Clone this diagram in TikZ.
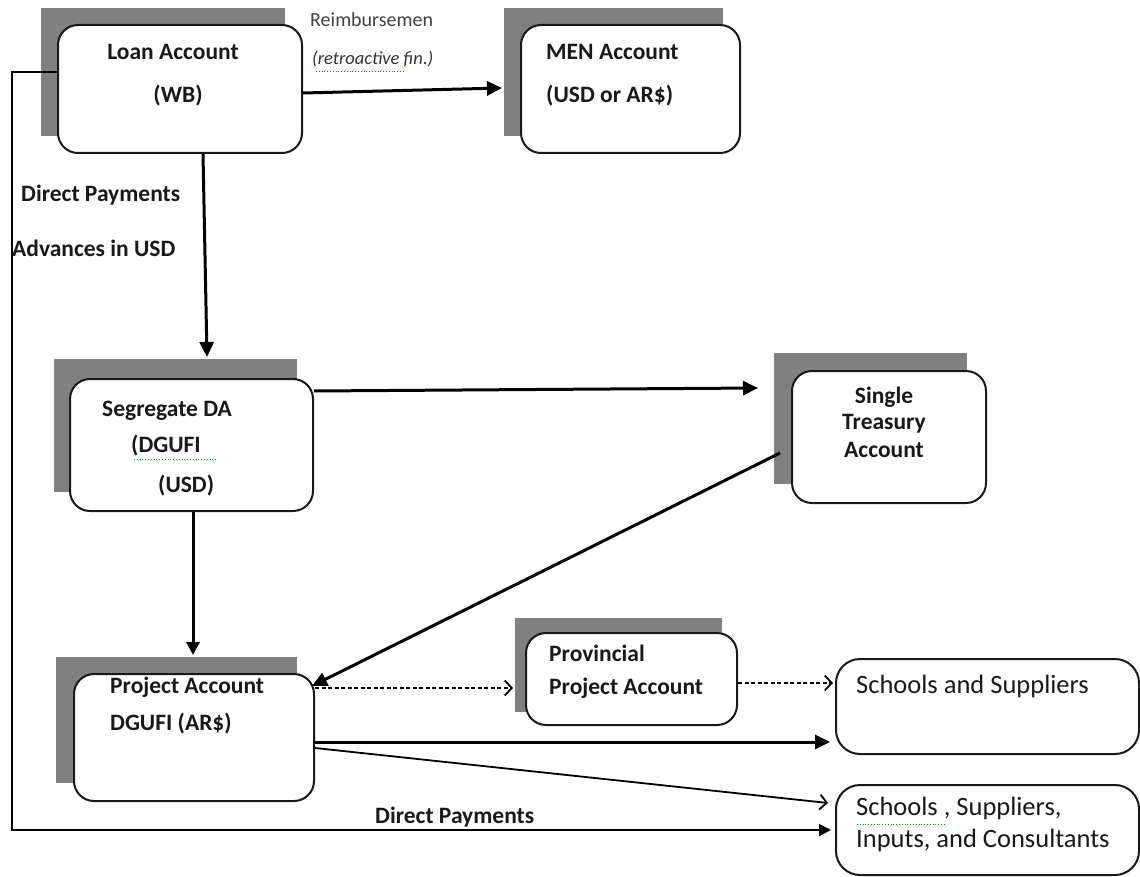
\documentclass[tikz,border=0pt]{standalone}
\usepackage{fontspec}
\setmainfont{Carlito}
\usetikzlibrary{arrows.meta,calc,decorations.pathmorphing}
\begin{document}
\begin{tikzpicture}[x=1pt,y=-1pt,
  bx/.style={draw=black!90, line width=2pt, fill=white, rounded corners=20pt, inner sep=0pt, anchor=north west},
  shd/.style={fill=black!50, draw=none, inner sep=0pt, anchor=north west},
  txt/.style={inner sep=0pt, text height=1.0em, text depth=0pt, font=\fontsize{23.5}{28}\selectfont\bfseries, text=black!90},
  big/.style={txt, font=\fontsize{26.5}{30}\selectfont},
  thk/.style={line width=3pt, -{Triangle[length=15pt,width=14pt]}},
  med/.style={line width=3pt, -{Triangle[length=13pt,width=13pt]}},
  thn/.style={line width=2pt, -{Triangle[length=12pt,width=12pt]}},
  opn/.style={line width=1.8pt, -{Straight Barb[length=7pt,width=15pt]}},
  dsh/.style={opn, dash pattern=on 4pt off 2.5pt},
  squig/.style={draw=green!60!black, line width=0.8pt, dotted}
]
\useasboundingbox (0,0) rectangle (1140,877);
\fill[white] (0,0) rectangle (1140,877);

% shadows and boxes
\node[shd, minimum width=244pt, minimum height=128pt] (loanS) at (41,8) {};
\node[bx, minimum width=244pt, minimum height=128pt] (loan) at (57,24) {};
\node[shd, minimum width=219pt, minimum height=128pt] (menS) at (504,8) {};
\node[bx, minimum width=219pt, minimum height=128pt] (men) at (520,24) {};
\node[shd, minimum width=243pt, minimum height=133pt] (segS) at (54,359) {};
\node[bx, minimum width=243pt, minimum height=132pt] (seg) at (69,378) {};
\node[shd, minimum width=193pt, minimum height=131pt] (staS) at (774,353) {};
\node[bx, minimum width=194pt, minimum height=132pt] (sta) at (791,370) {};
\node[shd, minimum width=241pt, minimum height=126pt] (projS) at (56,657) {};
\node[bx, minimum width=240pt, minimum height=127pt] (proj) at (73,673) {};
\node[shd, minimum width=207pt, minimum height=94pt] (provS) at (515,618) {};
\node[bx, minimum width=211pt, minimum height=92pt] (prov) at (525,632) {};
\node[bx, rounded corners=24pt, minimum width=303pt, minimum height=95pt] (ss) at (835,658) {};
\node[bx, rounded corners=24pt, minimum width=303pt, minimum height=90pt] (ssic) at (835,784) {};

% box texts
\node[txt] (tLoan1) at (173,55) {Loan Account};
\node[txt] (tLoan2) at (178,98) {(WB)};
\node[txt, anchor=west] (tMen1) at (546,55) {MEN Account};
\node[txt, anchor=west] (tMen2) at (546,98) {(USD or AR\$)};
\node[txt, anchor=west] (tSeg1) at (102,411) {Segregate DA};
\node[txt, anchor=west] (tSeg2) at (131,447) {(DGUFI};
\node[txt, anchor=west] (tSeg3) at (158,487) {(USD)};
\node[txt] (tSta1) at (884,398) {Single};
\node[txt] (tSta2) at (884,424) {Treasury};
\node[txt] (tSta3) at (884,452) {Account};
\node[txt, anchor=west] (tProj1) at (110,688) {Project Account};
\node[txt, anchor=west] (tProj2) at (110,725) {DGUFI (AR\$)};
\node[txt, anchor=west] (tProv1) at (549,656) {Provincial};
\node[txt, anchor=west] (tProv2) at (549,689) {Project Account};
\node[big, anchor=west] (tSs) at (856,688) {Schools and Suppliers};
\node[big, anchor=west] (tSsic1) at (856,810) {Schools , Suppliers,};
\node[big, anchor=west] (tSsic2) at (856,842) {Inputs, and Consultants};

% connector labels
\node[txt, anchor=west, font=\fontsize{20}{24}\selectfont, text=black!75] (lReimb) at (310,22) {Reimbursemen};
\node[txt, anchor=west, font=\fontsize{18.5}{22}\selectfont\itshape, text=black!80] (lRetro) at (312,60) {(retroactive fin.)};
\node[txt, anchor=west] (lDp1) at (21,197) {Direct Payments};
\node[txt, anchor=west] (lAdv) at (12,252) {Advances in USD};
\node[txt, anchor=west] (lDp2) at (375,818) {Direct Payments};

% spell-check marks
\draw[squig] (316,71) -- (404,71);
\draw[squig] (134,459) -- (216,459);
\draw[squig] (857,824) -- (944,824);

% connectors
\draw[thk] ($(loan.north east)+(0,69)$) -- ($(menS.north west)+(-2,80)$);
\draw[thk] ($(loan.south west)+(146,0)$) -- ($(segS.north west)+(153,-2)$);
\draw[thk] ($(seg.north east)+(0,13)$) -- ($(staS.north west)+(-16,35)$);
\draw[med] ($(seg.south west)+(124,0)$) -- ($(projS.north west)+(137,-2)$);
\draw[thk] ($(staS.north west)+(6,100)$) -- ($(proj.north east)+(-3,13)$);
\draw[dsh] ($(proj.north east)+(0,15)$) -- ($(provS.north west)+(-2,70)$);
\draw[dsh] ($(prov.north east)+(0,51)$) -- ($(ss.north west)+(-2,25)$);
\draw[thk] ($(proj.north east)+(0,69)$) -- ($(ss.south west)+(-5,-13)$);
\draw[opn] ($(proj.north east)+(0,75)$) -- ($(ssic.north west)+(-7,19)$);
\coordinate (dpA) at (12,72);
\coordinate (dpB) at (12,830);
\draw[thn] ($(loan.north west)+(0,48)$) -- (dpA) -- (dpB) -- ($(ssic.north west)+(-4,46)$);
\end{tikzpicture}
\end{document}
